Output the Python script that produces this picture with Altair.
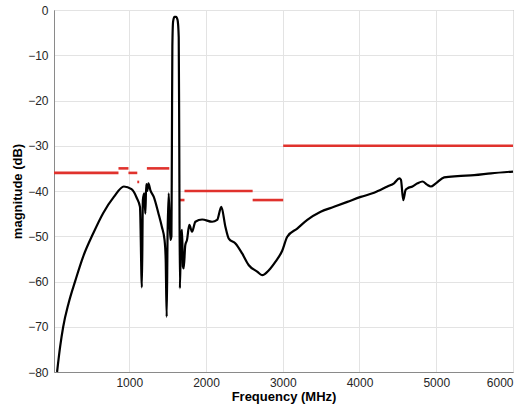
import altair as alt
import pandas as pd

# Measured response (frequency in MHz, magnitude in dB)
freq = [60, 100, 140, 210, 300, 400, 530, 660, 800, 930, 1030, 1100, 1140, 1165, 1178,
        1195, 1210, 1222, 1235, 1250, 1275, 1320, 1380, 1425, 1460, 1475, 1488, 1500,
        1515, 1535, 1550, 1556, 1562, 1572, 1590, 1610, 1630, 1645, 1652, 1660, 1675,
        1688, 1700, 1710, 1730, 1753, 1783, 1818, 1862, 1950, 2080, 2145, 2200, 2253,
        2297, 2384, 2471, 2558, 2667, 2732, 2819, 2906, 2993, 3059, 3189, 3320, 3494,
        3668, 3842, 4016, 4190, 4364, 4450, 4520, 4540, 4570, 4600, 4625, 4690, 4756,
        4821, 4880, 4930, 4995, 5103, 5278, 5495, 5713, 6000]
mag = [-80, -74.4, -70, -64.8, -59.7, -54.5, -49.4, -44.9, -41.3, -39.0, -39.6, -41.6,
       -43.5, -61.3, -42.0, -40.5, -45.0, -38.5, -40.0, -38.3, -39.8, -41.3, -44.9, -47.9,
       -50.8, -55.0, -67.8, -49.4, -40.5, -50.8, -50.0, -30.0, -8.0, -2.5, -1.5, -1.5,
       -2.2, -6.0, -30.0, -61.5, -50.0, -48.6, -56.7, -57.1, -52.0, -50.8, -47.5, -49.0,
       -46.8, -46.3, -46.8, -46.4, -43.5, -47.9, -50.5, -51.6, -53.8, -56.4, -57.8, -58.6,
       -57.5, -55.6, -53.2, -50.1, -48.3, -46.4, -44.6, -43.5, -42.4, -41.3, -40.4, -39.0,
       -38.3, -37.2, -37.5, -42.0, -39.8, -39.4, -39.0, -38.3, -37.9, -38.6, -39.0, -38.3,
       -37.0, -36.7, -36.5, -36.1, -35.7]

# Emission mask segments
mask_start = [20, 860, 990, 1105, 1230, 1653, 1720, 2608, 3006]
mask_end = [860, 990, 1105, 1130, 1522, 1720, 2608, 3006, 6000]
mask_level = [-36, -35, -36, -38, -35, -42, -40, -42, -30]

x_ticks = [1000, 2000, 3000, 4000, 5000, 6000]
y_ticks = [0, -10, -20, -30, -40, -50, -60, -70, -80]

curve = pd.DataFrame({"f": freq, "m": mag})
mask = pd.DataFrame({"f0": mask_start, "f1": mask_end, "m": mask_level})

xscale = alt.Scale(domain=[20, 6000], nice=False)
yscale = alt.Scale(domain=[-80, 0], nice=False)

xaxis = alt.Axis(values=x_ticks, title="Frequency (MHz)", grid=True, ticks=False,
                 labelPadding=5, titlePadding=2, format="d")
yaxis = alt.Axis(values=y_ticks, title="magnitude (dB)", grid=True, ticks=False,
                 labelPadding=6, titlePadding=3)

mask_layer = alt.Chart(mask).mark_rule(color="#e0322d", strokeWidth=2.6).encode(
    x=alt.X("f0:Q", scale=xscale, axis=xaxis),
    x2="f1:Q",
    y=alt.Y("m:Q", scale=yscale, axis=yaxis),
)

line_layer = alt.Chart(curve).mark_line(color="black", strokeWidth=2.2,
                                        strokeJoin="round",
                                        interpolate="monotone").encode(
    x=alt.X("f:Q", scale=xscale),
    y=alt.Y("m:Q", scale=yscale),
)

chart = alt.layer(mask_layer, line_layer).properties(
    width=459, height=362,
    autosize="none",
    padding={"left": 54, "top": 10, "right": 19, "bottom": 40},
).configure_view(
    stroke="#8a8a8a", strokeWidth=1
).configure_axis(
    labelFont="Liberation Sans", titleFont="Liberation Sans",
    labelFontSize=12, titleFontSize=13, titleFontWeight="bold",
    labelColor="#262626", titleColor="#000000",
    gridColor="#e3e3e3", gridWidth=1,
    domainColor="#8a8a8a", domainWidth=1,
)

chart.save("out.html", embed_options={"renderer": "svg", "actions": False})
